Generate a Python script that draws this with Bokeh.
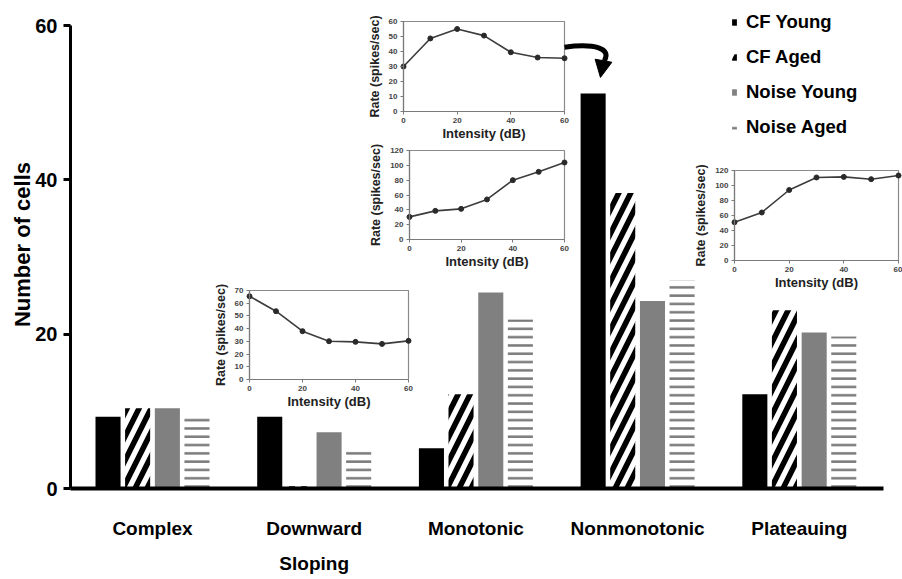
import numpy as np
from bokeh.plotting import figure
from bokeh.models import (Range1d, LinearAxis, FixedTicker, Legend, LegendItem,
                          ColumnDataSource, Arrow, NormalHead)
from bokeh.transform import dodge
from bokeh.embed import file_html
from bokeh.resources import INLINE

# ---------------- data ----------------
categories = ["Complex", "Downward\nSloping", "Monotonic", "Nonmonotonic", "Plateauing"]
cf_young = [9.3, 9.3, 5.2, 51.2, 12.2]
cf_aged = [10.4, 0.3, 12.2, 38.3, 23.1]
noise_young = [10.4, 7.3, 25.4, 24.3, 20.2]
noise_aged = [9.3, 4.9, 21.9, 27.0, 19.7]
series_labels = ["CF Young", "CF Aged", "Noise Young", "Noise Aged"]
y_ticks = [0, 20, 40, 60]

intensity = [0, 10, 20, 30, 40, 50, 60]
intensity_ticks = [0, 20, 40, 60]
rate_nonmono = [30, 48.7, 55, 50.6, 39.5, 36, 35.5]
rate_mono = [30.5, 38.6, 41.3, 54, 80, 91.2, 103.8]
rate_down = [65.5, 53.7, 38, 30.1, 29.6, 28, 30.4]
rate_plateau = [51, 64, 94, 110.7, 111.5, 108.4, 113.3]
ticks_nonmono = [0, 10, 20, 30, 40, 50, 60]
ticks_mono = [0, 20, 40, 60, 80, 100, 120]
ticks_down = [0, 10, 20, 30, 40, 50, 60, 70]
ticks_plateau = [0, 20, 40, 60, 80, 100, 120]

# ---------------- layout constants (pixels) ----------------
W, H = 902, 579
FL, FR, FT, FB = 70, 902, 0, 488
Y0_PX, Y60_PX = 488, 25
GROUP0_PX, STRIDE_PX = 152, 161.7

FONT = "Liberation Sans"

x_start = -(GROUP0_PX - FL) / STRIDE_PX
x_end = x_start + (FR - FL) / STRIDE_PX
ky = 60 / (Y0_PX - Y60_PX)
y_end = 60 + (Y60_PX - FT) * ky

p = figure(width=W, height=H, x_range=Range1d(x_start, x_end), y_range=Range1d(0, y_end),
           output_backend="svg", toolbar_location=None,
           min_border_left=FL, min_border_right=W - FR, min_border_top=FT,
           min_border_bottom=H - FB)
p.outline_line_color = None
p.xgrid.visible = False
p.ygrid.visible = False
p.background_fill_color = "white"
p.border_fill_color = "white"

src = ColumnDataSource(dict(xi=list(range(len(categories))), cf_young=cf_young,
                            cf_aged=cf_aged, noise_young=noise_young, noise_aged=noise_aged))
bw = 0.155
r1 = p.vbar(x=dodge("xi", -0.275), top="cf_young", width=bw, source=src,
            fill_color="black", line_color=None)
r2 = p.vbar(x=dodge("xi", -0.092), top="cf_aged", width=bw, source=src,
            fill_color="white", line_color=None, hatch_pattern="right_diagonal_line",
            hatch_color="black", hatch_weight=5.5, hatch_scale=24)
r3 = p.vbar(x=dodge("xi", 0.092), top="noise_young", width=bw, source=src,
            fill_color="#808080", line_color=None)
r4 = p.vbar(x=dodge("xi", 0.275), top="noise_aged", width=bw, source=src,
            fill_color="white", line_color=None, hatch_pattern="horizontal_line",
            hatch_color="#7a7a7a", hatch_weight=2.5, hatch_scale=8.3)

# main x axis
xa = p.xaxis[0]
xa.ticker = FixedTicker(ticks=list(range(len(categories))))
xa.major_label_overrides = {i: c for i, c in enumerate(categories)}
xa.bounds = (x_start - 0.06, len(categories) - 0.48)
xa.axis_line_width = 4
xa.major_tick_out = 0
xa.major_tick_in = 0
xa.minor_tick_out = 0
xa.minor_tick_in = 0
xa.major_label_standoff = 29
xa.major_label_text_font = FONT
xa.major_label_text_font_style = "bold"
xa.major_label_text_font_size = "19px"
xa.major_label_text_line_height = 1.68
xa.major_label_text_color = "black"

# main y axis
ya = p.yaxis[0]
ya.ticker = FixedTicker(ticks=y_ticks)
ya.bounds = (0, 60)
ya.axis_line_width = 3
ya.major_tick_line_width = 3
ya.major_tick_out = 7
ya.major_tick_in = 0
ya.minor_tick_out = 0
ya.minor_tick_in = 0
ya.major_label_standoff = 6
ya.major_label_text_font = FONT
ya.major_label_text_font_style = "bold"
ya.major_label_text_font_size = "20px"
ya.major_label_text_color = "black"
ya.axis_label = "Number of cells"
ya.axis_label_text_font = FONT
ya.axis_label_text_font_style = "bold"
ya.axis_label_text_font_size = "22px"
ya.axis_label_standoff = -3
ya.axis_label_text_color = "black"

# legend
legend = Legend(items=[LegendItem(label=l, renderers=[r]) for l, r in
                       zip(series_labels, [r1, r2, r3, r4])],
                location=(661, 348), glyph_width=6, glyph_height=8, label_standoff=9,
                spacing=9, padding=0, margin=0, border_line_color=None,
                background_fill_alpha=0, label_text_font=FONT,
                label_text_font_style="bold", label_text_font_size="18.5px",
                label_text_color="black", label_height=26)
p.add_layout(legend)

# ---------------- insets ----------------
insets = [
    dict(box=(403, 564, 21, 111), ticks=ticks_nonmono, rates=rate_nonmono),
    dict(box=(409, 564, 150, 239), ticks=ticks_mono, rates=rate_mono),
    dict(box=(249, 408, 290, 379), ticks=ticks_down, rates=rate_down),
    dict(box=(734, 898, 170, 260), ticks=ticks_plateau, rates=rate_plateau),
]
for i, ins in enumerate(insets):
    bx0, bx1, by0, by1 = ins["box"]
    xmax = intensity_ticks[-1]
    ymax = ins["ticks"][-1]
    kx = xmax / (bx1 - bx0)
    kyi = ymax / (by1 - by0)
    xn, yn = f"ix{i}", f"iy{i}"
    p.extra_x_ranges[xn] = Range1d(-(bx0 - FL) * kx, xmax + (FR - bx1) * kx)
    p.extra_y_ranges[yn] = Range1d(-(FB - by1) * kyi, ymax + (by0 - FT) * kyi)
    p.quad(left=[intensity_ticks[0]], right=[xmax], bottom=[ins["ticks"][0]], top=[ymax],
           fill_color="white", line_color="#8a8a8a", line_width=1.2,
           x_range_name=xn, y_range_name=yn)
    p.line(intensity, ins["rates"], line_color="#3c3c3c", line_width=1.6,
           x_range_name=xn, y_range_name=yn)
    p.scatter(intensity, ins["rates"], size=5, color="#2a2a2a",
              x_range_name=xn, y_range_name=yn)
    ax = LinearAxis(x_range_name=xn, y_range_name=yn, fixed_location=0,
                    bounds=(0, xmax), ticker=FixedTicker(ticks=intensity_ticks),
                    axis_label="Intensity (dB)")
    ay = LinearAxis(x_range_name=xn, y_range_name=yn, fixed_location=0,
                    bounds=(0, ymax), ticker=FixedTicker(ticks=ins["ticks"]),
                    axis_label="Rate (spikes/sec)")
    for a in (ax, ay):
        a.axis_line_color = "#7a7a7a"
        a.axis_line_width = 1.2
        a.major_tick_line_color = "#7a7a7a"
        a.major_tick_out = 3
        a.major_tick_in = 0
        a.minor_tick_out = 0
        a.minor_tick_in = 0
        a.major_label_text_font = FONT
        a.major_label_text_font_style = "bold"
        a.major_label_text_font_size = "8px"
        a.major_label_text_color = "#444444"
        a.major_label_standoff = 3
        a.axis_label_text_font = FONT
        a.axis_label_text_font_style = "bold"
        a.axis_label_text_color = "#222222"
    ax.axis_label_text_font_size = "13px"
    ax.axis_label_standoff = 0
    ay.axis_label_text_font_size = "12.5px"
    ay.axis_label_standoff = 4
    p.add_layout(ax, "below")
    p.add_layout(ay, "left")

# curved arrow from the nonmonotonic inset to its bar
p.bezier(x0=[60.0], y0=[42.9], x1=[74.9], y1=[34.0], cx0=[71.5], cy0=[45.5],
         cx1=[77.5], cy1=[42.0], line_width=5, line_color="black",
         x_range_name="ix0", y_range_name="iy0")
p.add_layout(Arrow(end=NormalHead(size=17, fill_color="black", line_color="black"),
                   x_start=74.6, y_start=34.5, x_end=73.4, y_end=22.7,
                   line_width=4, line_color="black",
                   x_range_name="ix0", y_range_name="iy0"))

open("out.html", "w").write(file_html(p, INLINE))
